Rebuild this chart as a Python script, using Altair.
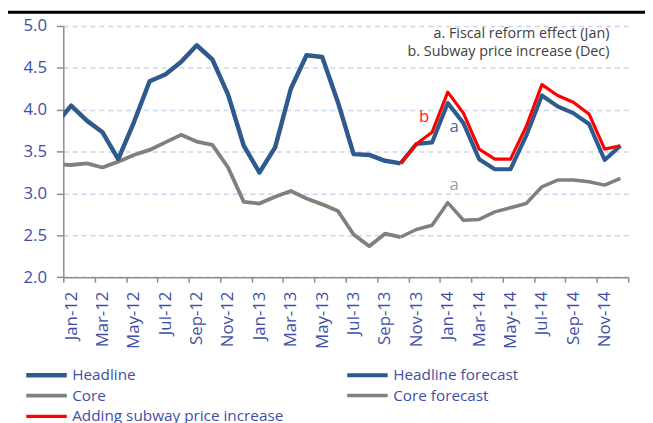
import json
import altair as alt
import pandas as pd

# ---- data ----
# month index: -1 = Dec-11, 0 = Jan-12 ... 35 = Dec-14
headline = [3.82, 4.05, 3.87, 3.73, 3.41, 3.85, 4.34, 4.42, 4.57, 4.77, 4.60, 4.18,
            3.57, 3.25, 3.55, 4.25, 4.65, 4.63, 4.09, 3.47, 3.46, 3.39, 3.36]      # Dec-11..Oct-13
core = [3.35, 3.34, 3.36, 3.31, 3.38, 3.46, 3.52, 3.61, 3.70, 3.62, 3.58, 3.31,
        2.90, 2.88, 2.96, 3.03, 2.94, 2.87, 2.79, 2.51, 2.37, 2.52, 2.48]          # Dec-11..Oct-13
headline_fc = [3.36, 3.59, 3.61, 4.08, 3.84, 3.41, 3.29, 3.29, 3.69, 4.17, 4.04,
               3.96, 3.83, 3.40, 3.57]                                               # Oct-13..Dec-14
core_fc = [2.48, 2.57, 2.62, 2.89, 2.68, 2.69, 2.78, 2.83, 2.88, 3.08, 3.16,
           3.16, 3.14, 3.10, 3.18]                                                   # Oct-13..Dec-14
subway = [3.36, 3.59, 3.73, 4.21, 3.96, 3.53, 3.41, 3.41, 3.80, 4.30, 4.17,
          4.09, 3.95, 3.53, 3.57]                                                    # Oct-13..Dec-14

tick_labels = ["Jan-12", "Mar-12", "May-12", "Jul-12", "Sep-12", "Nov-12",
               "Jan-13", "Mar-13", "May-13", "Jul-13", "Sep-13", "Nov-13",
               "Jan-14", "Mar-14", "May-14", "Jul-14", "Sep-14", "Nov-14"]

series_order = ["Headline", "Headline forecast", "Core", "Core forecast",
                "Adding subway price increase"]
series_colors = ["#2E5A8E", "#2E5A8E", "#808080", "#808080", "#FF0000"]
series_widths = [4.5, 3.2, 4.5, 3.2, 3.2]

notes = ["a. Fiscal reform effect (Jan)", "b. Subway price increase (Dec)"]
notes_x = [34.3, 34.3]
notes_y = [4.905, 4.69]

marks_text = ["b", "a", "a"]
marks_x = [22.5, 24.4, 24.4]
marks_y = [3.91, 3.79, 3.10]
marks_col = ["#FF2020", "#4A6A9A", "#A0A0A0"]

# ---- build table ----
rows = []
def add(name, start, vals):
    for i, v in enumerate(vals):
        rows.append({"series": name, "t": start + i, "v": v})

# draw order: core first, red last
add("Core", -1, core)
add("Core forecast", 21, core_fc)
add("Headline", -1, headline)
add("Headline forecast", 21, headline_fc)
add("Adding subway price increase", 21, subway)
df = pd.DataFrame(rows)

notes_df = pd.DataFrame({"text": notes, "x": notes_x, "y": notes_y})
marks_df = pd.DataFrame({"text": marks_text, "x": marks_x, "y": marks_y, "col": marks_col})

FONT = "Open Sans"
LBL = "#3F4FA3"

tick_vals = [-0.5 + 2 * k for k in range(19)]
label_expr = json.dumps(tick_labels) + "[round((datum.value + 0.5) / 2)] || ''"

xscale = alt.Scale(domain=[-0.5, 35.5], nice=False, zero=False)
yscale = alt.Scale(domain=[2, 5], nice=False, zero=False)

x_axis = alt.Axis(values=tick_vals, labelExpr=label_expr, labelAngle=270,
                  labelOffset=7.94, labelPadding=9, tickSize=5, grid=False,
                  labelFont=FONT, labelFontSize=17, labelColor=LBL,
                  domainColor="#8C8C8C", tickColor="#8C8C8C",
                  domainWidth=1.5, tickWidth=1.5, labelFlush=False,
                  labelOverlap=False, labelBound=False, title=None)
y_axis = alt.Axis(values=[2, 2.5, 3, 3.5, 4, 4.5, 5], format=".1f",
                  tickSize=7, labelPadding=10, grid=True,
                  gridColor="#C8D7EC", gridDash=[5, 4], gridWidth=1.5,
                  labelFont=FONT, labelFontSize=17, labelColor=LBL,
                  domainColor="#8C8C8C", tickColor="#8C8C8C",
                  domainWidth=1.5, tickWidth=1.5, labelOverlap=False, title=None)

legend = alt.Legend(
    title=None, orient="none", legendX=-40, legendY=345.5, columns=2,
    direction="horizontal",
    symbolType="stroke", symbolSize=1681, clipHeight=15.5, rowPadding=4,
    labelFont=FONT, labelFontSize=15.5, labelColor=LBL, labelOffset=3,
    labelLimit=500, columnPadding=62, padding=0, gridAlign="each",
)

lines = alt.Chart(df).mark_line(clip=True, strokeJoin="round").encode(
    x=alt.X("t:Q", scale=xscale, axis=x_axis),
    y=alt.Y("v:Q", scale=yscale, axis=y_axis),
    color=alt.Color("series:N", scale=alt.Scale(domain=series_order, range=series_colors),
                    legend=legend),
    strokeWidth=alt.StrokeWidth("series:N",
                                scale=alt.Scale(domain=series_order, range=series_widths),
                                legend=legend),
)

notes_layer = alt.Chart(notes_df).mark_text(
    align="right", baseline="middle", font=FONT, fontSize=14.5, color="#404040"
).encode(x=alt.X("x:Q", scale=xscale, axis=x_axis), y=alt.Y("y:Q", scale=yscale, axis=y_axis),
         text="text:N")

marks_layer = alt.Chart(marks_df).mark_text(
    align="center", baseline="middle", font=FONT, fontSize=17
).encode(x=alt.X("x:Q", scale=xscale, axis=x_axis), y=alt.Y("y:Q", scale=yscale, axis=y_axis),
         text="text:N", color=alt.Color("col:N", scale=None))

top_rule = alt.Chart(pd.DataFrame({"k": [0]})).mark_rule(color="black", strokeWidth=3).encode(
    x=alt.value(-56), x2=alt.value(589), y=alt.value(-14))

chart = alt.layer(lines, notes_layer, marks_layer, top_rule).properties(
    width=572, height=254.4,
    autosize=alt.AutoSizeParams(type="none"),
    padding={"left": 56, "top": 15.6, "right": 17, "bottom": 145},
    background="white",
).configure_view(stroke=None)

chart.save("out.html", embed_options={"renderer": "svg", "actions": False})
